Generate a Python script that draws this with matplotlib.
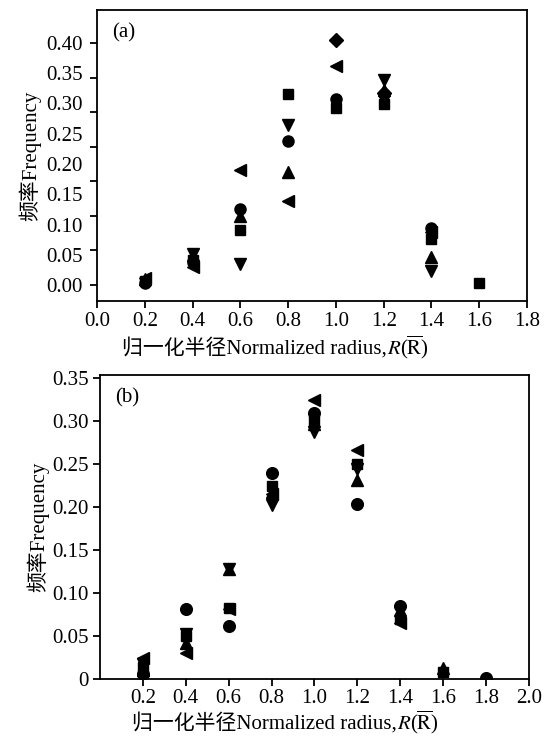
import numpy as np
import matplotlib
matplotlib.use("Agg")
import matplotlib.pyplot as plt

plt.rcParams["font.family"] = ["Liberation Serif", "Noto Sans CJK SC"]
plt.rcParams["mathtext.fontset"] = "stix"

# ---- panel (a) data ----
a_square_x = [0.2, 0.4, 0.6, 0.8, 1.0, 1.2, 1.4, 1.6]
a_square_y = [0.007, 0.042, 0.091, 0.315, 0.292, 0.299, 0.076, 0.004]
a_circle_x = [0.2, 0.4, 0.6, 0.8, 1.0, 1.2, 1.4]
a_circle_y = [0.003, 0.038, 0.126, 0.238, 0.308, 0.315, 0.095]
a_up_x = [0.2, 0.4, 0.6, 0.8, 1.2, 1.4]
a_up_y = [0.010, 0.050, 0.114, 0.187, 0.322, 0.047]
a_down_x = [0.4, 0.6, 0.8, 1.2, 1.4]
a_down_y = [0.052, 0.035, 0.264, 0.339, 0.023]
a_left_x = [0.2, 0.4, 0.6, 0.8, 1.0, 1.4]
a_left_y = [0.012, 0.030, 0.190, 0.139, 0.362, 0.088]
a_diamond_x = [1.0, 1.2]
a_diamond_y = [0.405, 0.318]

# ---- panel (b) data ----
b_square_x = [0.2, 0.4, 0.6, 0.8, 1.0, 1.2, 1.4, 1.6]
b_square_y = [0.014, 0.050, 0.083, 0.225, 0.300, 0.250, 0.070, 0.008]
b_circle_x = [0.2, 0.4, 0.6, 0.8, 1.0, 1.2, 1.4, 1.8]
b_circle_y = [0.006, 0.082, 0.062, 0.240, 0.310, 0.204, 0.085, 0.001]
b_up_x = [0.2, 0.4, 0.6, 0.8, 1.0, 1.2, 1.4, 1.6]
b_up_y = [0.010, 0.042, 0.128, 0.218, 0.297, 0.232, 0.080, 0.013]
b_down_x = [0.2, 0.4, 0.6, 0.8, 1.0, 1.2]
b_down_y = [0.018, 0.053, 0.128, 0.203, 0.288, 0.245]
b_left_x = [0.2, 0.4, 0.6, 0.8, 1.0, 1.2, 1.4]
b_left_y = [0.024, 0.030, 0.082, 0.215, 0.3255, 0.267, 0.065]

a_xticks = np.round(np.arange(0, 1.81, 0.2), 1)
a_ylabels = np.round(np.arange(0, 0.401, 0.05), 2)
b_xticks = np.round(np.arange(0.2, 2.01, 0.2), 1)
b_yticks = np.round(np.arange(0, 0.351, 0.05), 2)

xlab_text = "归一化半径Normalized radius,"
xlab_math = r"$R$(" + r"$\overline{\mathrm{R}}$)"
ylab = "频率Frequency"

W, H = 548, 740
fig = plt.figure(figsize=(W / 100, H / 100), dpi=100)
ax1 = fig.add_axes([0.177, 0.5932, 0.7847, 0.3933])
ax2 = fig.add_axes([0.1825, 0.0824, 0.7828, 0.4108])

ms = 8
sets_a = [
    (a_square_x, a_square_y, "s", ms * 0.95),
    (a_circle_x, a_circle_y, "o", ms),
    (a_up_x, a_up_y, "^", ms),
    (a_down_x, a_down_y, "v", ms),
    (a_left_x, a_left_y, "<", ms),
    (a_diamond_x, a_diamond_y, "D", ms * 0.85),
]
sets_b = [
    (b_square_x, b_square_y, "s", ms * 0.95),
    (b_circle_x, b_circle_y, "o", ms * 1.05),
    (b_up_x, b_up_y, "^", ms),
    (b_down_x, b_down_y, "v", ms),
    (b_left_x, b_left_y, "<", ms),
]

for x, y, m, s in sets_a:
    ax1.plot(x, y, linestyle="none", marker=m, markersize=s, color="black")
for x, y, m, s in sets_b:
    ax2.plot(x, y, linestyle="none", marker=m, markersize=s, color="black")

# panel (a) axes
ax1.set_xlim(0, 1.8)
ax1.set_ylim(-0.0264, 0.4545)
ax1.set_xticks(a_xticks)
ax1.set_xticklabels([f"{v:.1f}" for v in a_xticks])
# the tick marks and the tick labels do not line up in the original
ax1.yaxis.remove_overlapping_locs = False
ax1.set_yticks(np.linspace(0, 0.40, 8))
ax1.set_yticklabels([])
ax1.set_yticks(a_ylabels, minor=True)
ax1.set_yticklabels([f"{v:.2f}" for v in a_ylabels], minor=True)
ax1.tick_params(axis="y", which="minor", length=0, pad=10)
ax1.text(0.035, 0.955, "(a)", transform=ax1.transAxes, fontsize=15,
         va="top", ha="left")

# panel (b) axes
ax2.set_xlim(0, 2.0)
ax2.set_ylim(0, 0.354)
ax2.set_xticks(b_xticks)
ax2.set_xticklabels([f"{v:.1f}" for v in b_xticks])
ax2.set_yticks(b_yticks)
ax2.set_yticklabels(["0"] + [f"{v:.2f}" for v in b_yticks[1:]])
ax2.text(0.035, 0.955, "(b)", transform=ax2.transAxes, fontsize=15,
         va="top", ha="left")

for ax in (ax1, ax2):
    for sp in ax.spines.values():
        sp.set_linewidth(1.3)
    ax.tick_params(which="major", direction="out", length=5, width=1.3,
                   labelsize=15, pad=3)
    ax.tick_params(axis="y", which="minor", labelsize=15)
ax2.tick_params(axis="x", pad=2)

ax1.set_ylabel(ylab, fontsize=15, labelpad=4)
ax2.set_ylabel(ylab, fontsize=15, labelpad=2)

# x labels: CJK text and the math part are drawn as two pieces on one baseline
renderer = fig.canvas.get_renderer()
for x0, base in [(122, 354), (132, 729)]:
    t1 = fig.text(x0 / W, 1 - base / H, xlab_text, fontsize=15,
                  ha="left", va="baseline")
    bb = t1.get_window_extent(renderer)
    fig.text(bb.x1 / W, 1 - base / H, xlab_math, fontsize=15,
             ha="left", va="baseline")

fig.savefig("out.png", dpi=100)
